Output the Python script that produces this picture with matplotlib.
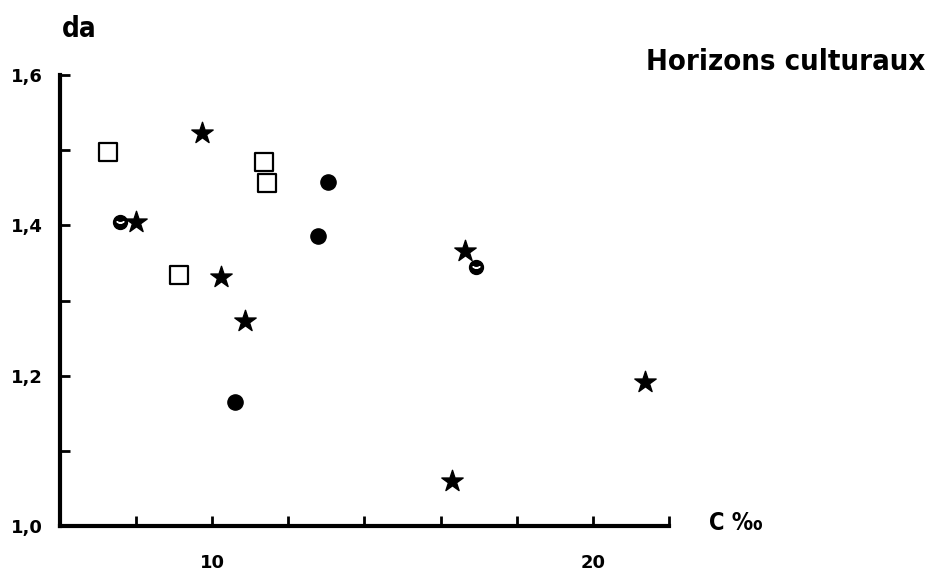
import numpy as np
import matplotlib.pyplot as plt

plt.rcParams['font.family'] = ['DejaVu Sans']

# C per mille vs bulk density (da)
sq_x = [7.26, 11.37, 11.45, 9.14]
sq_y = [1.497, 1.484, 1.456, 1.334]

dot_x = [13.04, 12.78, 10.61]
dot_y = [1.458, 1.386, 1.165]

mark_x = [7.57, 16.92]
mark_y = [1.404, 1.345]

star_x = [9.74, 7.99, 10.24, 10.87, 16.63, 16.31, 21.37]
star_y = [1.523, 1.404, 1.331, 1.273, 1.366, 1.060, 1.192]

xticks = [8, 10, 12, 14, 16, 18, 20, 22]
xlabels = ['', '10', '', '', '', '', '20', '']
yticks = [1.0, 1.1, 1.2, 1.3, 1.4, 1.5, 1.6]
ylabels = ['1,0', '', '1,2', '', '1,4', '', '1,6']

fig = plt.figure(figsize=(9.31, 5.72), dpi=100)
ax = fig.add_axes([0.0644, 0.0804, 0.6542, 0.7885])

ax.scatter(sq_x, sq_y, marker='s', s=165, facecolor='white', edgecolor='black', linewidth=1.6, zorder=3)
ax.scatter(dot_x, dot_y, marker='o', s=120, color='black', zorder=3)
ax.scatter(mark_x, mark_y, marker='o', s=100, color='black', zorder=3)
ax.scatter(mark_x, mark_y, marker='$\\smile$', s=25, color='white', zorder=4)
ax.scatter(star_x, star_y, marker='*', s=260, color='black', zorder=3)

ax.set_xlim(6, 22)
ax.set_ylim(1.0, 1.6)
ax.spines['top'].set_visible(False)
ax.spines['right'].set_visible(False)
ax.spines['left'].set_linewidth(3)
ax.spines['bottom'].set_linewidth(3)

ax.set_xticks(xticks)
ax.set_xticklabels(xlabels)
ax.set_yticks(yticks)
ax.set_yticklabels(ylabels)
ax.tick_params(direction='in', length=7, width=2, labelsize=13, pad=20)
ax.tick_params(axis='y', pad=12)
for t in ax.get_xticklabels() + ax.get_yticklabels():
    t.set_fontweight('bold')

fig.text(0.066, 0.95, 'da', fontsize=20, fontweight='bold', fontstretch='condensed',
         ha='left', va='center')
fig.text(0.994, 0.892, 'Horizons culturaux', fontsize=21, fontweight='bold',
         fontstretch='condensed', ha='right', va='center')
fig.text(0.762, 0.085, 'C ‰', fontsize=17, fontweight='bold', fontstretch='condensed',
         ha='left', va='center')

fig.savefig('out.png', dpi=100, facecolor='white')
